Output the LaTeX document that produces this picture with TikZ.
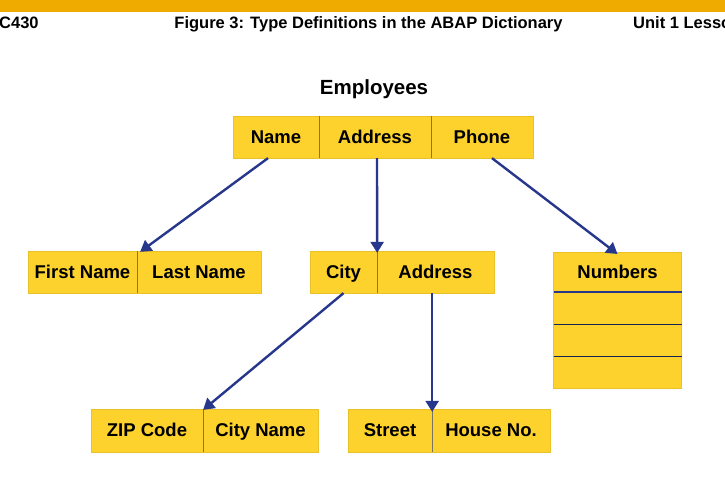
\documentclass[tikz,border=0pt]{standalone}
\usepackage{fontspec}
\setmainfont{Liberation Sans}
\usetikzlibrary{arrows.meta}
\definecolor{sapgold}{HTML}{F0AB00}
\definecolor{cellyellow}{HTML}{FDD22C}
\definecolor{linkblue}{HTML}{27378C}
\definecolor{divgray}{HTML}{7A7560}
\begin{document}
\begin{tikzpicture}[x=1pt, y=-1pt,
  cell/.style={fill=cellyellow, draw=cellyellow!92!black, line width=0.3pt, inner sep=0pt,
               minimum height=42, text height=13.5pt, text depth=1pt,
               font=\fontsize{18.5}{22}\selectfont\bfseries},
  headtext/.style={font=\fontsize{16.5}{19}\selectfont\bfseries, inner sep=0pt},
  divider/.style={draw=divgray, line width=1pt},
  link/.style={draw=linkblue, line width=2.4pt, -{Triangle[length=11pt, width=13pt]}}]
  % page frame
  \useasboundingbox (0,0) rectangle (725,485);
  \clip (0,0) rectangle (725,485);
  \fill[white] (0,0) rectangle (725,485);
  \fill[sapgold] (0,0) rectangle (725,12);

  % header line
  \node[headtext, anchor=base west] (course) at (-1,28) {C430};
  \node[headtext, anchor=base] (caption) at (368.5,28) {Figure 3: Type Definitions in the ABAP Dictionary};
  \node[headtext, anchor=base west] (unit) at (633,28) {Unit 1 Lesso};

  % structure title
  \node[font=\fontsize{20.5}{24}\selectfont\bfseries] (employees) at (374,89) {Employees};

  % top row
  \node[cell, minimum width=86] (name) at (276,137) {Name};
  \node[cell, minimum width=112] (addr) at (375,137) {Address};
  \node[cell, minimum width=102] (phone) at (482,137) {Phone};
  \draw[divider] (name.north east) -- (name.south east);
  \draw[divider] (addr.north east) -- (addr.south east);

  % middle row
  \node[cell, minimum width=109] (first) at (82.5,272) {First Name};
  \node[cell, minimum width=124] (last) at (199,272) {Last Name};
  \draw[divider] (first.north east) -- (first.south east);
  \node[cell, minimum width=67] (city) at (343.5,272) {City};
  \node[cell, minimum width=117] (addrsub) at (435.5,272) {Address};
  \draw[divider] (city.north east) -- (city.south east);

  % table type
  \node[cell, minimum width=128, minimum height=136, anchor=north] (numbers) at (617.5,252) {};
  \node[cell, fill=none, draw=none] (numhead) at (617.5,272) {Numbers};
  \draw[draw=linkblue, line width=2pt] (553.5,292) -- (681.5,292);
  \draw[draw=linkblue!60!black, line width=1pt] (553.5,324) -- (681.5,324);
  \draw[draw=linkblue!60!black, line width=1pt] (553.5,356) -- (681.5,356);

  % bottom row
  \node[cell, minimum width=112, minimum height=43] (zip) at (147,430.5) {ZIP Code};
  \node[cell, minimum width=115, minimum height=43] (cityname) at (260.5,430.5) {City Name};
  \draw[divider] (zip.north east) -- (zip.south east);
  \node[cell, minimum width=84, minimum height=43] (street) at (390,430.5) {Street};
  \node[cell, minimum width=118, minimum height=43] (house) at (491,430.5) {House No.};
  \draw[divider] (street.north east) -- (street.south east);

  % links
  \draw[link] ([xshift=-8pt]name.south) -- ([xshift=3pt, yshift=-1pt]first.north east);
  \draw[link] ([xshift=2pt]addr.south) -- ([yshift=-2pt]city.north east);
  \draw[link] ([xshift=10pt]phone.south) -- ([yshift=-2pt]numbers.north);
  \draw[link] (city.south) -- ([yshift=-1pt]zip.north east);
  \draw[link] (street.north east |- addrsub.south) -- ([yshift=-3pt]street.north east);
\end{tikzpicture}
\end{document}
